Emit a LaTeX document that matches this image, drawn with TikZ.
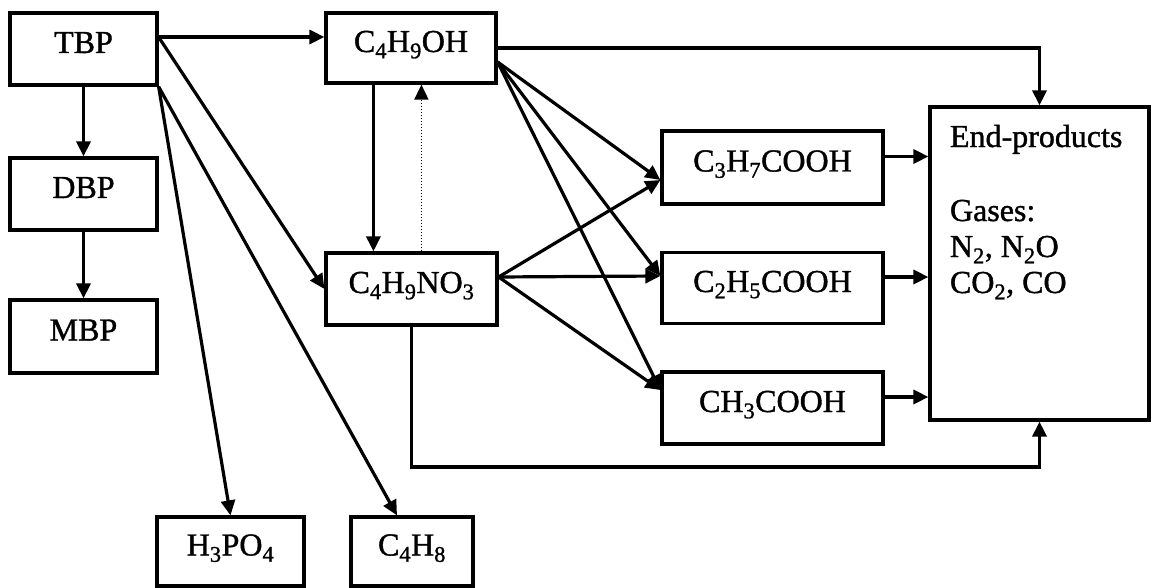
\documentclass[tikz,border=0pt]{standalone}
\usepackage{fontspec}
\setmainfont[FakeBold=1.2]{Liberation Serif}
\usetikzlibrary{arrows.meta}
\newcommand{\chsub}[1]{\textsubscript{#1}}
\tikzset{
  box/.style={draw, line width=3.2pt, inner sep=0pt, text height=22pt, text depth=14pt,
              font=\fontsize{32}{36}\selectfont},
  arr/.style={line width=3.2pt, -{Triangle[length=15pt,width=14pt]}},
  dotarr/.style={line width=1.6pt, dash pattern=on 1.6pt off 1.4pt, -{Triangle[length=15pt,width=14pt]}},
}
\begin{document}
\begin{tikzpicture}[x=1pt,y=-1pt]
\useasboundingbox (0,0) rectangle (1167,588);
% boxes
\node[box, minimum width=147pt, minimum height=72pt] (TBP) at (83.5,49) {TBP};
\node[box, minimum width=147pt, minimum height=72pt] (DBP) at (83.5,194) {DBP};
\node[box, minimum width=147pt, minimum height=73pt] (MBP) at (83.5,336.5) {MBP};
\node[box, minimum width=170pt, minimum height=70pt] (OH) at (411,48) {C\chsub{4}H\chsub{9}OH};
\node[box, minimum width=171pt, minimum height=72pt] (NO) at (411.5,289) {C\chsub{4}H\chsub{9}NO\chsub{3}};
\node[box, minimum width=147pt, minimum height=69pt] (HPO) at (230.5,551.5) {H\chsub{3}PO\chsub{4}};
\node[box, minimum width=122pt, minimum height=69pt] (CH8) at (412,551.5) {C\chsub{4}H\chsub{8}};
\node[box, minimum width=221pt, minimum height=73pt] (C3) at (772.5,167.5) {C\chsub{3}H\chsub{7}COOH};
\node[box, minimum width=221pt, minimum height=71pt] (C2) at (772.5,288) {C\chsub{2}H\chsub{5}COOH};
\node[box, minimum width=221pt, minimum height=72pt] (C1) at (772.5,408) {CH\chsub{3}COOH};
\node[draw, line width=3.2pt, inner sep=0pt, minimum width=219pt, minimum height=313pt,
      font=\fontsize{32}{36}\selectfont] (End) at (1039.5,263.5)
  {\parbox[c][309pt][t]{179pt}{\rule{0pt}{38pt}End-products\\[38pt]Gases:\\N\chsub{2}, N\chsub{2}O\\CO\chsub{2}, CO}};
% helper coordinates
\coordinate (t1) at ([yshift=12pt]TBP.east);
\coordinate (ohs) at ([yshift=-14pt]OH.east);
\coordinate (nos) at ([yshift=12pt]NO.east);
\coordinate (c3o) at ([yshift=11pt]C3.east);
\coordinate (c2o) at ([yshift=11pt]C2.east);
\coordinate (c1o) at ([yshift=11pt]C1.east);
\coordinate (nb) at ([xshift=87pt]NO.south west);
\coordinate (low) at (0,467);
% TBP connectors
\draw[arr] (t1) -- (t1 -| OH.west);
\draw[arr] (t1) -- (NO.west);
\draw[arr] (TBP.south) -- (DBP.north);
\draw[arr] (DBP.south) -- (MBP.north);
\draw[arr] (TBP.south east) -- (HPO.north);
\draw[arr] (TBP.south east) -- ([xshift=-15pt]CH8.north);
% butanol / nitrate
\draw[arr] ([xshift=49pt]OH.south west) -- ([xshift=49pt]NO.north west);
\draw[dotarr] ([xshift=97pt]NO.north west) -- ([xshift=97pt]OH.south west);
\draw[arr] (OH.east) -| (End.north);
\draw[arr] (ohs) -- ([yshift=-12.5pt]C3.west);
\draw[arr] (ohs) -- ([yshift=12pt]C2.west);
\draw[arr] (ohs) -- ([yshift=18pt]C1.west);
\draw[arr] (nos) -- ([yshift=-12.5pt]C3.west);
\draw[arr] (nos) -- ([yshift=12pt]C2.west);
\draw[arr] (nos) -- ([yshift=18pt]C1.west);
\draw[arr] (nb) -- (nb |- low) -| (End.south);
% acids to end-products
\draw[arr] (c3o) -- (c3o -| End.west);
\draw[arr] (c2o) -- (c2o -| End.west);
\draw[arr] (c1o) -- (c1o -| End.west);
\end{tikzpicture}
\end{document}
